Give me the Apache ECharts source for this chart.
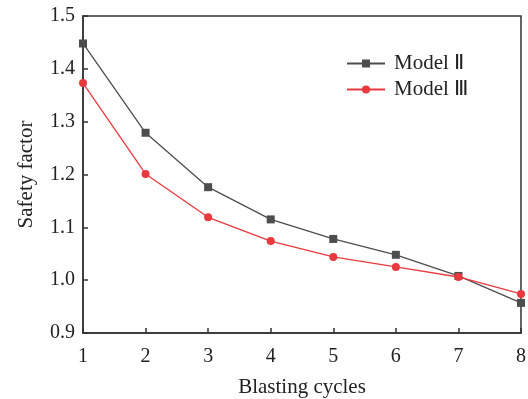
<!DOCTYPE html>
<html>
<head>
<meta charset="utf-8">
<script src="https://cdn.jsdelivr.net/npm/echarts@6/dist/echarts.min.js"></script>
<style>
  html, body { margin: 0; padding: 0; background: #fff; }
  #chart { width: 528px; height: 399px; }
</style>
</head>
<body>
<div id="chart"></div>
<script>
// blasting cycles on the x axis
const cycles = [1, 2, 3, 4, 5, 6, 7, 8];
const model2 = [1.448, 1.279, 1.176, 1.115, 1.078, 1.048, 1.008, 0.957];
const model3 = [1.373, 1.201, 1.119, 1.074, 1.044, 1.025, 1.006, 0.974];
const seriesNames = ['Model Ⅱ', 'Model Ⅲ'];

const font = '"Liberation Serif", "Times New Roman", serif';
const axisColor = '#333';
const textColor = '#222';

const chart = echarts.init(document.getElementById('chart'));
const option = {
  animation: false,
  textStyle: { fontFamily: font },
  grid: {
    left: 83, right: 7, top: 16, bottom: 66,
    outerBoundsMode: 'none',
    show: true, borderColor: axisColor, borderWidth: 1.5,
  },
  legend: {
    orient: 'vertical',
    left: 341, top: 48,
    itemWidth: 38, itemHeight: 10,
    itemGap: 5,
    textStyle: { fontFamily: font, fontSize: 21, color: textColor, padding: [0, 0, 0, 4] },
    data: seriesNames,
  },
  xAxis: {
    type: 'value',
    min: 1, max: 8, interval: 1,
    name: 'Blasting cycles',
    nameLocation: 'middle',
    nameGap: 44,
    nameTextStyle: { fontFamily: font, fontSize: 21, color: textColor },
    axisLine: { lineStyle: { color: axisColor, width: 1.5 } },
    axisTick: { inside: true, length: 5, lineStyle: { color: axisColor, width: 1.5 } },
    axisLabel: { fontFamily: font, fontSize: 20, color: textColor, margin: 14 },
    splitLine: { show: false },
  },
  yAxis: {
    type: 'value',
    min: 0.9, max: 1.5, interval: 0.1,
    name: 'Safety factor',
    nameLocation: 'middle',
    nameGap: 46,
    nameTextStyle: { fontFamily: font, fontSize: 21, color: textColor },
    axisLine: { show: true, lineStyle: { color: axisColor, width: 1.5 } },
    axisTick: { show: true, inside: true, length: 5, lineStyle: { color: axisColor, width: 1.5 } },
    axisLabel: {
      fontFamily: font, fontSize: 20, color: textColor, margin: 8,
      formatter: v => v.toFixed(1),
    },
    splitLine: { show: false },
  },
  series: [
    {
      name: seriesNames[0],
      type: 'line',
      data: cycles.map((c, i) => [c, model2[i]]),
      symbol: 'rect',
      symbolSize: 8,
      color: '#4d4d4d',
      lineStyle: { width: 1.3 },
      z: 2,
    },
    {
      name: seriesNames[1],
      type: 'line',
      data: cycles.map((c, i) => [c, model3[i]]),
      symbol: 'circle',
      symbolSize: 8,
      color: '#e8393f',
      lineStyle: { width: 1.3 },
      z: 3,
    },
  ],
};
chart.setOption(option);
</script>
</body>
</html>
